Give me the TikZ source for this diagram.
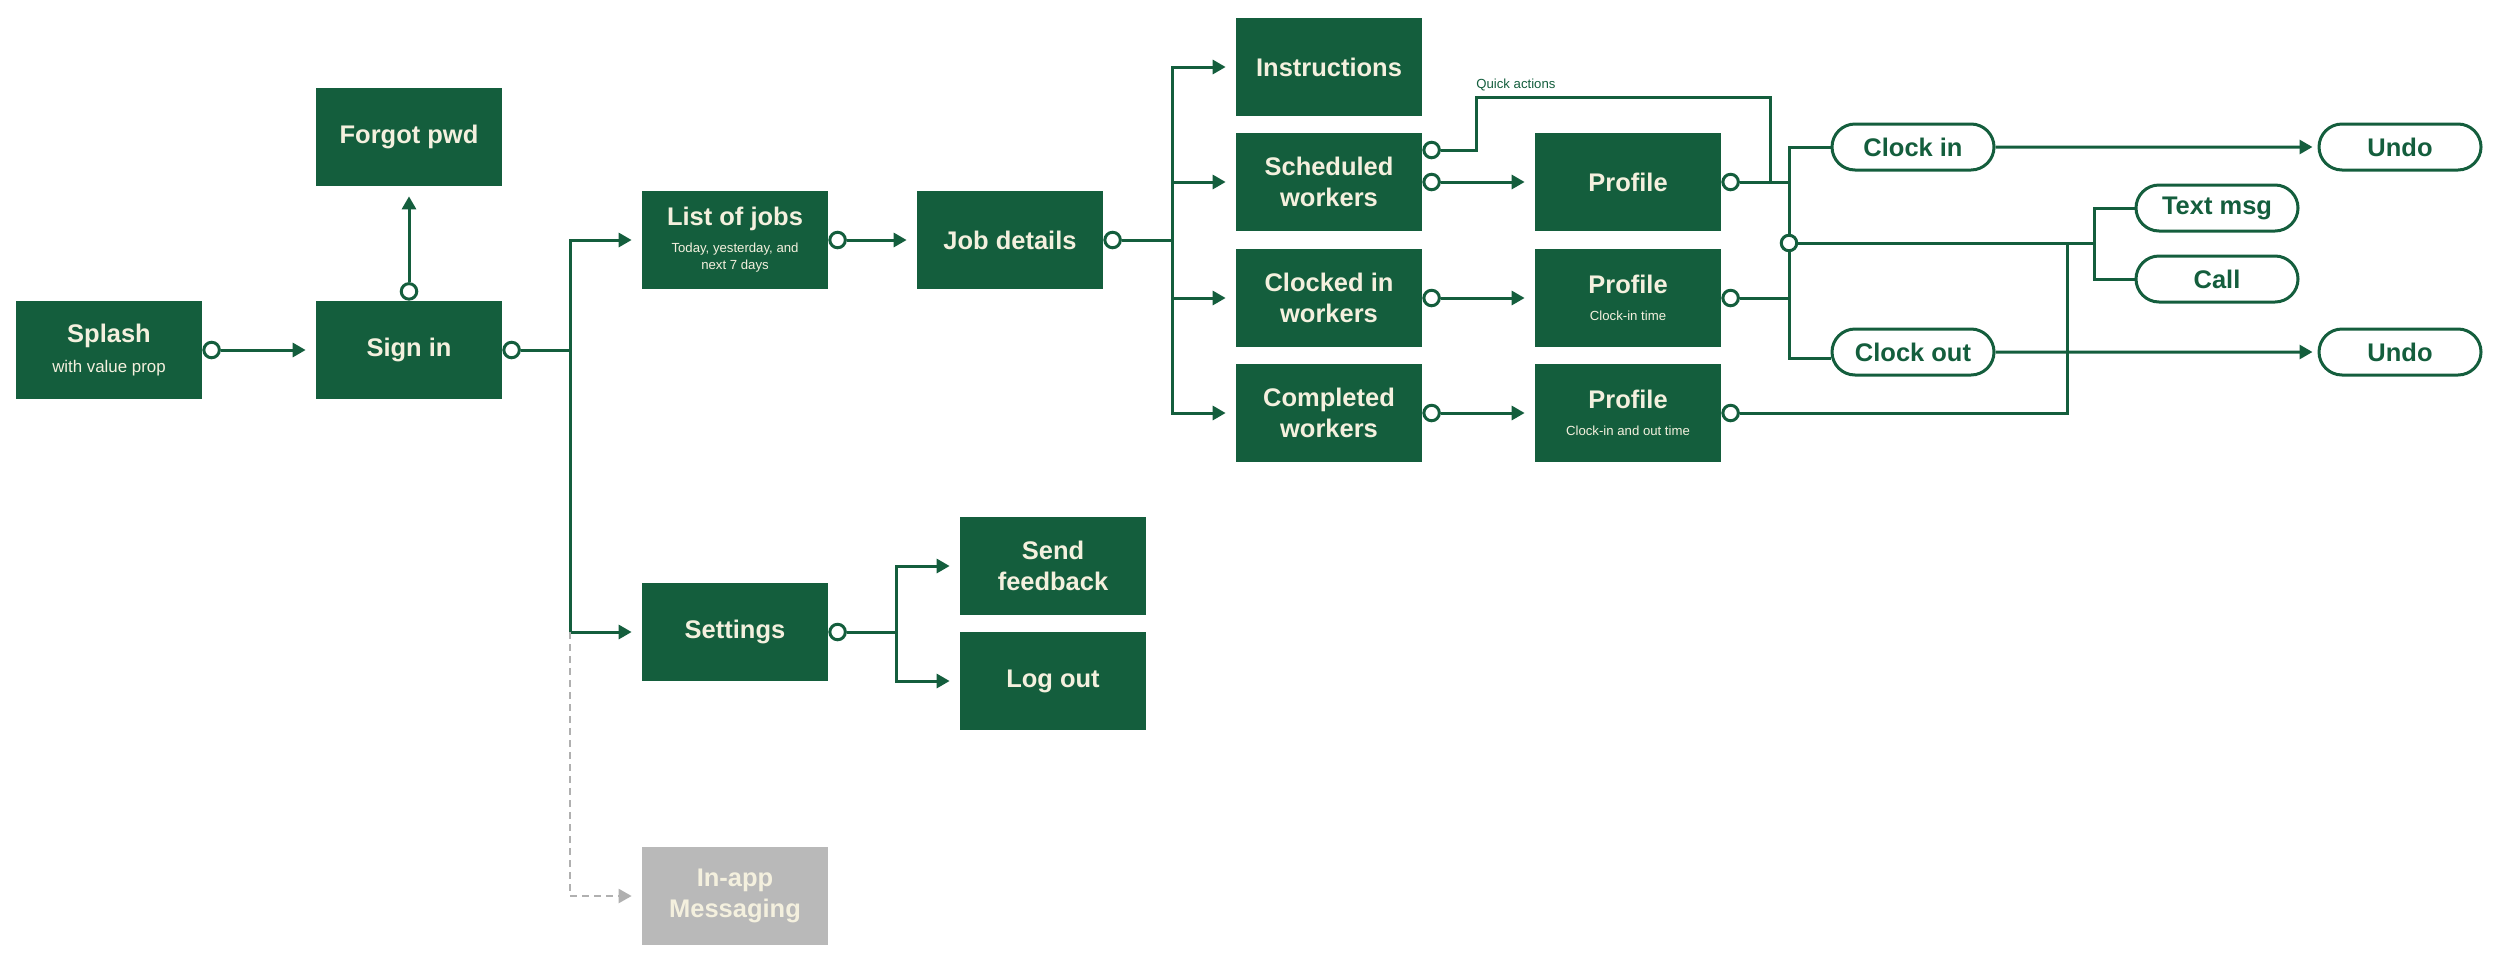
\documentclass[tikz,border=0pt]{standalone}
\usepackage{fontspec}
\setmainfont{Liberation Sans}
\usetikzlibrary{shapes.misc,arrows.meta,positioning}
\definecolor{appgreen}{RGB}{20,94,61}
\definecolor{cream}{RGB}{244,240,222}
\definecolor{boxgrey}{RGB}{185,185,185}
\definecolor{linegrey}{RGB}{176,176,176}
\newcommand{\subsmall}{\fontsize{7.5}{9}\selectfont\mdseries}
\newcommand{\sublarge}{\fontsize{9.6}{11}\selectfont\mdseries}

\begin{document}
\begin{tikzpicture}[x=0.2mm, y=-0.2mm,
    screen/.style={rectangle, fill=appgreen, text=cream, minimum width=37.2mm, minimum height=19.6mm, inner sep=0pt, align=center, font=\fontsize{14.5}{18}\selectfont\bfseries},
    later/.style={screen, fill=boxgrey},
    action/.style={rounded rectangle, draw=appgreen, line width=0.6mm, fill=white, text=appgreen, minimum width=32.4mm, minimum height=9.2mm, inner sep=0pt, font=\fontsize{14.5}{18}\selectfont\bfseries},
    port/.style={circle, draw=appgreen, fill=white, line width=0.6mm, minimum size=3.1mm, inner sep=0pt},
    link/.style={appgreen, line width=0.6mm},
    flow/.style={link, -{Triangle[length=2.6mm,width=2.8mm]}, shorten >=2mm},
    laterflow/.style={linegrey, line width=0.45mm, dash pattern=on 1.4mm off 1mm, -{Triangle[length=2.6mm,width=2.8mm]}, shorten >=2mm},
    note/.style={text=appgreen, inner sep=0pt, font=\fontsize{7.5}{9}\selectfont}]
    \useasboundingbox (0,0) rectangle (2500,965);

    % Screens
    \node[screen] (splash) at (109,350) {Splash\\[-1pt]{\sublarge with value prop}};
    \node[screen] (signin) at (409,350) {Sign in};
    \node[screen] (forgot) at (409,137) {Forgot pwd};
    \node[screen] (jobs) at (735,240) {List of jobs\\[-3pt]{\subsmall Today, yesterday, and}\\[-8pt]{\subsmall next 7 days}};
    \node[screen] (details) at (1010,240) {Job details};
    \node[screen] (instr) at (1329,67) {Instructions};
    \node[screen] (sched) at (1329,182) {Scheduled\\workers};
    \node[screen] (clocked) at (1329,298) {Clocked in\\workers};
    \node[screen] (completed) at (1329,413) {Completed\\workers};
    \node[screen] (prof1) at (1628,182) {Profile};
    \node[screen] (prof2) at (1628,298) {Profile\\[-3pt]{\subsmall Clock-in time}};
    \node[screen] (prof3) at (1628,413) {Profile\\[-3pt]{\subsmall Clock-in and out time}};
    \node[screen] (settings) at (735,632) {Settings};
    \node[screen] (feedback) at (1053,566) {Send\\feedback};
    \node[screen] (logout) at (1053,681) {Log out};
    \node[later] (inapp) at (735,896) {In-app\\Messaging};

    % Quick actions
    \node[action] (clockin) at (1913,147) {Clock in};
    \node[action] (undoin) at (2400,147) {Undo};
    \node[action] (textmsg) at (2217,208) {Text msg};
    \node[action] (call) at (2217,279) {Call};
    \node[action] (clockout) at (1913,352) {Clock out};
    \node[action] (undoout) at (2400,352) {Undo};

    % Ports
    \node[port, right=0pt of splash] (splash-o) {};
    \node[port, right=0pt of signin] (signin-o) {};
    \node[port, above=0pt of signin] (signin-up) {};
    \node[port, right=0pt of jobs] (jobs-o) {};
    \node[port, right=0pt of details] (details-o) {};
    \node[port, right=0pt of sched] (sched-o) {};
    \node[port, anchor=west] (sched-qa) at ([yshift=6.4mm]sched.east) {};
    \node[port, right=0pt of clocked] (clocked-o) {};
    \node[port, right=0pt of completed] (completed-o) {};
    \node[port, right=0pt of prof1] (prof1-o) {};
    \node[port, right=0pt of prof2] (prof2-o) {};
    \node[port, right=0pt of prof3] (prof3-o) {};
    \node[port, right=0pt of settings] (settings-o) {};
    \node[port] (hub) at (1789,243) {};

    \coordinate (signin-split) at (570,350);
    \coordinate (details-split) at (1172,240);
    \coordinate (settings-split) at (896,632);
    \coordinate (qa) at (1770,97);
    \coordinate (contact-split) at (2094,243);
    \coordinate (done-join) at (2067,243);

    % Sign in
    \draw[flow] (splash-o) -- (signin);
    \draw[flow] (signin-up) -- (forgot);
    \draw[link] (signin-o) -- (signin-split);
    \draw[flow] (signin-split) |- (jobs);
    \draw[flow] (signin-split) |- (settings);
    \draw[laterflow] (signin-split |- settings) |- (inapp);

    % Jobs
    \draw[flow] (jobs-o) -- (details);
    \draw[link] (details-o) -- (details-split);
    \foreach \s in {instr,sched,clocked,completed}
        \draw[flow] (details-split) |- (\s);
    \draw[flow] (sched-o) -- (prof1);
    \draw[flow] (clocked-o) -- (prof2);
    \draw[flow] (completed-o) -- (prof3);
    \draw[link] (sched-qa) -- ++(45,0) |- (qa) -- (qa |- prof1-o);
    \node[note, anchor=base west] (qa-label) at (1476,88) {Quick actions};

    % Clocking and contact
    \draw[link] (prof1-o) -- (prof1-o -| hub);
    \draw[link] (prof2-o) -- (prof2-o -| hub);
    \draw[link] (hub) |- (clockin);
    \draw[link] (hub) |- ([yshift=-1.2mm]clockout.west);
    \draw[link] (hub) -- (contact-split);
    \draw[link] (contact-split) |- (textmsg);
    \draw[link] (contact-split) |- (call);
    \draw[link] (prof3-o) -| (done-join);
    \draw[flow, shorten >=1mm] (clockin) -- (undoin);
    \draw[flow, shorten >=1mm] (clockout) -- (undoout);

    % Settings
    \draw[link] (settings-o) -- (settings-split);
    \draw[flow] (settings-split) |- (feedback);
    \draw[flow] (settings-split) |- (logout);
\end{tikzpicture}
\end{document}
